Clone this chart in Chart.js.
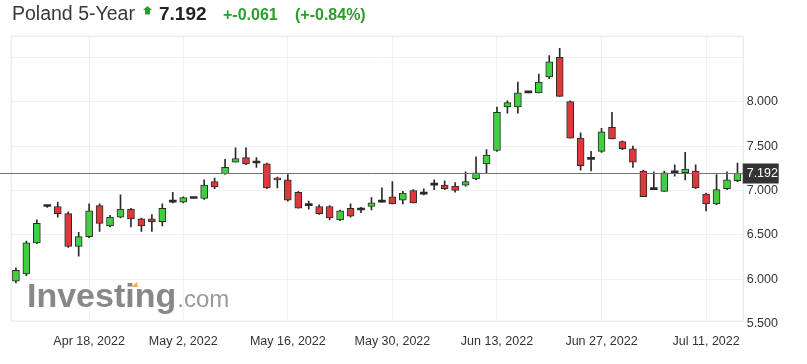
<!DOCTYPE html>
<html>
<head>
<meta charset="utf-8">
<script src="https://cdn.jsdelivr.net/npm/chart.js@4.4.0/dist/chart.umd.min.js"></script>
<style>
  html, body { margin: 0; padding: 0; background: #fff; }
  #wrap { position: relative; width: 807px; height: 364px; font-family: "Liberation Sans", Arial, sans-serif; }
  #grafico { position: absolute; left: 0; top: 0; }
  .t { position: absolute; white-space: nowrap; line-height: 1; }
  #nome { left: 12px; top: 3.5px; font-size: 19.5px; color: #383838; }
  #seta { position: absolute; left: 143px; top: 6px; }
  #preco { left: 159px; top: 4px; font-size: 19px; font-weight: bold; color: #222; }
  #variacao { left: 223px; top: 6.5px; font-size: 16px; font-weight: bold; color: #2a9e2a; }
  #percentual { left: 295px; top: 6.5px; font-size: 16px; font-weight: bold; color: #2a9e2a; }
</style>
</head>
<body>
<div id="wrap">
  <canvas id="grafico" width="807" height="364"></canvas>
  <span class="t" id="nome">Poland 5-Year</span>
  <svg id="seta" width="10" height="9"><polygon points="4.5,0 9,4 7,4 7,8.5 2,8.5 2,4 0,4" fill="#2a9e2a"/></svg>
  <span class="t" id="preco">7.192</span>
  <span class="t" id="variacao">+-0.061</span>
  <span class="t" id="percentual">(+-0.84%)</span>
</div>
<script>
// valores diarios (OHLC)
var abertura = [5.98, 6.06, 6.41, 6.82, 6.82, 6.74, 6.37, 6.48, 6.83, 6.60,
  6.70, 6.79, 6.68, 6.68, 6.65, 6.87, 6.87, 6.91, 6.91, 7.10,
  7.19, 7.32, 7.37, 7.31, 7.30, 7.14, 7.12, 6.98, 6.83, 6.82,
  6.82, 6.67, 6.80, 6.78, 6.82, 6.87, 6.93, 6.89, 7.00, 6.96,
  7.06, 7.06, 7.05, 7.06, 7.13, 7.30, 7.45, 7.94, 7.94, 8.10,
  8.10, 8.28, 8.50, 8.00, 7.59, 7.35, 7.44, 7.71, 7.55, 7.47,
  7.22, 7.01, 6.99, 7.20, 7.20, 7.22, 6.96, 6.85, 7.02, 7.11];
var maxima = [6.13, 6.43, 6.67, 6.83, 6.87, 6.76, 6.53, 6.85, 6.85, 6.72,
  6.95, 6.80, 6.69, 6.73, 6.85, 6.98, 6.93, 6.91, 7.12, 7.14,
  7.35, 7.48, 7.48, 7.37, 7.31, 7.15, 7.18, 6.99, 6.88, 6.84,
  6.83, 6.78, 6.85, 6.81, 6.92, 7.03, 7.10, 6.99, 7.01, 7.02,
  7.12, 7.11, 7.09, 7.21, 7.38, 7.46, 7.94, 8.01, 8.22, 8.10,
  8.31, 8.52, 8.60, 8.01, 7.65, 7.44, 7.70, 7.88, 7.56, 7.50,
  7.23, 7.21, 7.22, 7.29, 7.43, 7.29, 6.97, 7.18, 7.21, 7.31];
var minima = [5.96, 6.04, 6.40, 6.81, 6.70, 6.36, 6.26, 6.47, 6.54, 6.59,
  6.69, 6.59, 6.54, 6.54, 6.60, 6.86, 6.86, 6.91, 6.90, 7.02,
  7.18, 7.32, 7.29, 7.26, 7.02, 7.03, 6.88, 6.80, 6.79, 6.73,
  6.67, 6.66, 6.70, 6.75, 6.78, 6.87, 6.85, 6.85, 6.86, 6.95,
  7.01, 7.01, 6.98, 7.05, 7.12, 7.20, 7.44, 7.87, 7.87, 8.10,
  8.10, 8.26, 8.06, 7.59, 7.23, 7.22, 7.43, 7.58, 7.46, 7.26,
  6.93, 7.01, 6.99, 7.16, 7.12, 7.02, 6.77, 6.84, 7.01, 7.10];
var fechamento = [6.10, 6.41, 6.63, 6.82, 6.74, 6.37, 6.48, 6.77, 6.63, 6.70,
  6.79, 6.68, 6.60, 6.65, 6.80, 6.87, 6.92, 6.91, 7.06, 7.04,
  7.26, 7.36, 7.30, 7.31, 7.03, 7.12, 6.89, 6.80, 6.83, 6.74,
  6.69, 6.77, 6.71, 6.78, 6.86, 6.87, 6.85, 6.97, 6.86, 6.96,
  7.06, 7.02, 7.00, 7.10, 7.20, 7.40, 7.88, 7.99, 8.10, 8.10,
  8.22, 8.45, 8.06, 7.59, 7.28, 7.35, 7.66, 7.58, 7.47, 7.32,
  6.93, 7.01, 7.20, 7.20, 7.24, 7.03, 6.85, 7.01, 7.12, 7.192];

// eixo x: posicao (indice do candle) e texto de cada data marcada
var posicoesX = [7, 16, 26, 36, 46, 56, 66];
var rotulosX = ['Apr 18, 2022', 'May 2, 2022', 'May 16, 2022', 'May 30, 2022', 'Jun 13, 2022', 'Jun 27, 2022', 'Jul 11, 2022'];

// eixo y
var ticksY = [5.5, 6.0, 6.5, 7.0, 7.5, 8.0, 8.5];
var rotulosY = ['5.500', '6.000', '6.500', '7.000', '7.500', '8.000', ''];
var ultimoValor = 7.192;
var ultimoTexto = '7.192';

var verde = '#3fcf3f';
var vermelho = '#e0383a';
var contorno = '#2a2a2a';

var dias = [];
var pavios = [];
var corpos = [];
var coresCorpo = [];
var bordaCorpo = [];
for (let i = 0; i < abertura.length; i++) {
  dias.push(i);
  pavios.push([minima[i], maxima[i]]);
  corpos.push([Math.min(abertura[i], fechamento[i]), Math.max(abertura[i], fechamento[i])]);
  if (Math.abs(fechamento[i] - abertura[i]) < 0.005) {
    coresCorpo.push(contorno);
    bordaCorpo.push(0);
  } else {
    coresCorpo.push(fechamento[i] > abertura[i] ? verde : vermelho);
    bordaCorpo.push(1);
  }
}

const extras = {
  id: 'extras',
  beforeDatasetsDraw(chart) {
    const ctx = chart.ctx;
    const area = chart.chartArea;
    ctx.save();
    // marca d'agua
    ctx.textBaseline = 'alphabetic';
    ctx.font = 'bold 34px "Liberation Sans", Arial, sans-serif';
    ctx.fillStyle = '#888';
    ctx.fillText('Investing', 27, 307);
    const w = ctx.measureText('Investing').width;
    ctx.font = '24px "Liberation Sans", Arial, sans-serif';
    ctx.fillStyle = '#999';
    ctx.fillText('.com', 28 + w, 307);
    ctx.fillStyle = '#f6b24c';
    ctx.beginPath();
    ctx.moveTo(131, 287); ctx.lineTo(137, 282); ctx.lineTo(138, 287); ctx.closePath();
    ctx.fill();
    // moldura
    ctx.strokeStyle = '#e4e4e4';
    ctx.lineWidth = 1;
    ctx.strokeRect(area.left + 0.5, area.top + 0.5, area.width, area.height);
    ctx.restore();
  },
  afterDatasetsDraw(chart) {
    const ctx = chart.ctx;
    const area = chart.chartArea;
    const y = Math.round(chart.scales.y.getPixelForValue(ultimoValor)) + 0.5;
    ctx.save();
    ctx.strokeStyle = '#707070';
    ctx.lineWidth = 1;
    ctx.beginPath();
    ctx.moveTo(0, y);
    ctx.lineTo(area.right, y);
    ctx.stroke();
    ctx.fillStyle = '#333';
    ctx.fillRect(area.right, y - 10, 36, 20);
    ctx.fillStyle = '#fff';
    ctx.font = '12.5px "Liberation Sans", Arial, sans-serif';
    ctx.textBaseline = 'middle';
    ctx.fillText(ultimoTexto, area.right + 4, y + 0.5);
    ctx.restore();
  }
};

new Chart(document.getElementById('grafico'), {
  type: 'bar',
  data: {
    labels: dias,
    datasets: [
      {
        data: pavios,
        backgroundColor: contorno,
        barThickness: 1,
        grouped: false,
        order: 2,
        borderWidth: 0
      },
      {
        data: corpos,
        backgroundColor: coresCorpo,
        borderColor: contorno,
        borderWidth: bordaCorpo,
        borderSkipped: false,
        barThickness: 7,
        minBarLength: 2,
        grouped: false,
        order: 1
      }
    ]
  },
  options: {
    responsive: false,
    animation: false,
    layout: { padding: { left: 10.7, top: 35.7, right: 0, bottom: 0 } },
    plugins: {
      legend: { display: false },
      tooltip: { enabled: false }
    },
    scales: {
      x: {
        type: 'category',
        offset: true,
        border: { display: false },
        grid: {
          offset: false,
          drawTicks: false,
          color: function (c) { return posicoesX.indexOf(c.index) >= 0 ? '#f0f0f0' : 'rgba(0,0,0,0)'; }
        },
        ticks: {
          autoSkip: false,
          maxRotation: 0,
          minRotation: 0,
          padding: 13,
          color: '#333',
          font: { family: '"Liberation Sans", Arial, sans-serif', size: 12.5 },
          callback: function (v, i) {
            var k = posicoesX.indexOf(i);
            return k >= 0 ? rotulosX[k] : '';
          }
        },
        afterFit: function (s) { s.height = 43.3; }
      },
      y: {
        type: 'linear',
        position: 'right',
        min: 5.534,
        max: 8.743,
        border: { display: false },
        grid: {
          drawTicks: false,
          color: function (c) { return c.tick && c.tick.value < 5.534 ? 'rgba(0,0,0,0)' : '#f0f0f0'; }
        },
        afterBuildTicks: function (s) { s.ticks = ticksY.map(function (v) { return { value: v }; }); },
        ticks: {
          padding: 4,
          color: '#333',
          font: { family: '"Liberation Sans", Arial, sans-serif', size: 12.5 },
          callback: function (v) {
            var k = ticksY.indexOf(v);
            return k >= 0 ? rotulosY[k] : '';
          }
        },
        afterFit: function (s) { s.width = 64.3; }
      }
    }
  },
  plugins: [extras]
});
</script>
</body>
</html>
